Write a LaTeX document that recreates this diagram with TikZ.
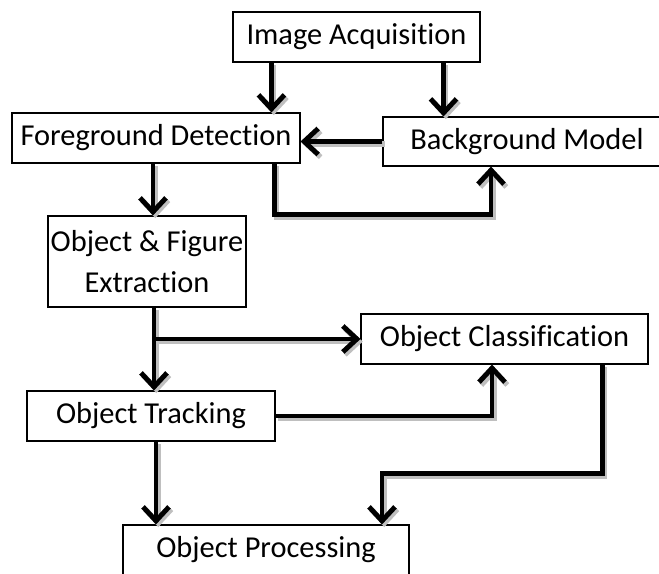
\documentclass[tikz,border=0pt]{standalone}
\usepackage{fontspec}
\setmainfont{Carlito}[RawFeature={-liga;-clig;-calt}]
\usepackage{tikz}
\usetikzlibrary{arrows.meta}
\tikzstyle{arrow} = [-{Straight Barb[length=2.8mm,width=5.2mm]},line width=2.8pt,
    preaction={draw=black!25,line width=3pt,transform canvas={shift={(1.3pt,-1.5pt)}}}]
\tikzstyle{block} = [draw,line width=0.6pt,inner sep=0pt,align=center,font=\fontsize{17.3}{23}\selectfont]

\begin{document}
\begin{tikzpicture}
        \clip (0,0) rectangle (13.18,11.48);
        \useasboundingbox (0,0) rectangle (13.18,11.48);
        \node[block, minimum width=4.94cm, minimum height=1cm] at (7.13,10.74) (acq) {Image Acquisition};
        \node[block, minimum width=5.76cm, minimum height=1cm] at (3.12,8.72) (fgd) {Foreground Detection};
        \node[block, minimum width=5.76cm, minimum height=0.98cm] at (10.54,8.65) (bgm) {Background Model};
        \node[block, minimum width=3.96cm, minimum height=1.82cm] at (2.94,6.25) (ofe) {Object \& Figure\\Extraction};
        \node[block, minimum width=5.74cm, minimum height=1cm] at (10.09,4.70) (ocl) {Object Classification};
        \node[block, minimum width=4.96cm, minimum height=1cm] at (3.02,3.16) (otr) {Object Tracking};
        \node[block, minimum width=5.72cm, minimum height=1cm] at (5.32,0.48) (opr) {Object Processing};

        \coordinate (a1) at ([xshift=0.78cm]acq.south west);
        \coordinate (a2) at ([xshift=-0.74cm]acq.south east);
        \coordinate (f1) at ([xshift=-0.52cm]fgd.south east);
        \coordinate (b1) at ([xshift=-0.72cm]bgm.south);
        \coordinate (f2) at ([xshift=-0.06cm]fgd.south);
        \coordinate (e1) at ([xshift=0.14cm]ofe.south);
        \coordinate (c1) at ([xshift=-0.25cm]ocl.south);
        \coordinate (c2) at ([xshift=-0.92cm]ocl.south east);
        \coordinate (t1) at ([xshift=0.10cm]otr.south);
        \coordinate (p1) at ([xshift=2.32cm]opr.north);

        \draw[arrow] (a1) -- (a1 |- fgd.north);
        \draw[arrow] (a2) -- (a2 |- bgm.north);
        \draw[arrow] (bgm.west) -- (bgm.west -| fgd.east);
        \draw[arrow] (f1) -- ++(0,-1.02) -| (b1);
        \draw[arrow] (f2) -- (f2 |- ofe.north);
        \draw[arrow] (e1) -- (e1 |- otr.north);
        \draw[arrow] (e1 |- ocl.west) -- (ocl.west);
        \draw[arrow] (otr.east) -| (c1);
        \draw[arrow] (t1) -- (t1 |- opr.north);
        \draw[arrow] (c2) -- ++(0,-2.18) -| (p1);

    \end{tikzpicture}
\end{document}
